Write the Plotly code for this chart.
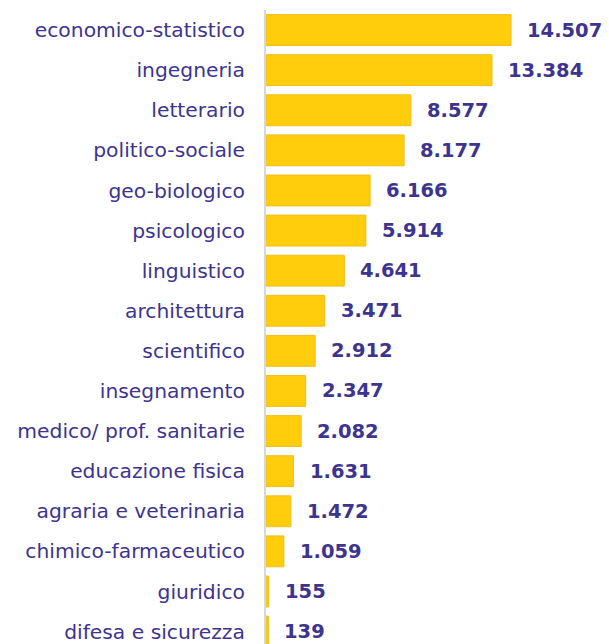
import plotly.graph_objects as go

categories = ["economico-statistico", "ingegneria", "letterario", "politico-sociale",
              "geo-biologico", "psicologico", "linguistico", "architettura", "scientifico",
              "insegnamento", "medico/ prof. sanitarie", "educazione fisica",
              "agraria e veterinaria", "chimico-farmaceutico", "giuridico", "difesa e sicurezza"]
values = [14507, 13384, 8577, 8177, 6166, 5914, 4641, 3471, 2912, 2347, 2082, 1631,
          1472, 1059, 155, 139]
value_labels = [f"{v:,}".replace(",", ".") for v in values]

TEXT_COLOR = "#3d3490"

fig = go.Figure()
fig.add_trace(go.Bar(
    x=values, y=categories, orientation="h",
    marker=dict(color="#FFCD0C", line=dict(color="#EEBE1E", width=1)),
    width=0.77,
    hoverinfo="skip",
))

for cat, v, lab in zip(categories, values, value_labels):
    fig.add_annotation(x=v, y=cat, text=f"<b>{lab}</b>", showarrow=False,
                       xanchor="left", yanchor="middle", xshift=14,
                       font=dict(family="DejaVu Sans", size=19.5, color=TEXT_COLOR))

fig.update_layout(
    width=609, height=644,
    margin=dict(l=266, r=0, t=10, b=0),
    paper_bgcolor="white", plot_bgcolor="white",
    showlegend=False,
    font=dict(family="DejaVu Sans", color=TEXT_COLOR),
)
fig.update_xaxes(range=[0, 20310], visible=False, showgrid=False, zeroline=False)
fig.update_yaxes(
    categoryorder="array", categoryarray=categories,
    range=[15.31, -0.5],
    showgrid=False, zeroline=False,
    showline=True, linecolor="#d8d8d8", linewidth=2,
    ticks="", ticklabelstandoff=15,
    tickfont=dict(family="DejaVu Sans", size=20.3, color=TEXT_COLOR),
)

fig.write_html("out.html")
